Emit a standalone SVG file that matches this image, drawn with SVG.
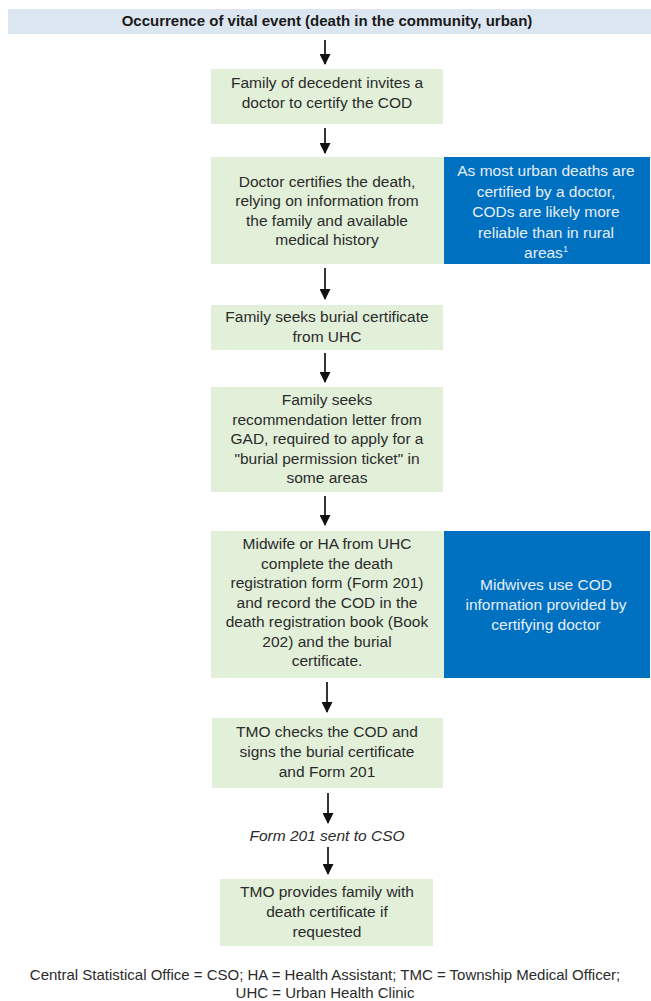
<svg xmlns="http://www.w3.org/2000/svg" width="651" height="1001" viewBox="0 0 651 1001">
<defs>
<style>
.t{font-family:"Liberation Sans",Arial,sans-serif;font-size:15.5px;fill:#2b2b2b;text-anchor:middle}
.w{fill:#e6eef8}
.b{font-weight:bold;fill:#1a1a1a;font-size:15px}
.i{font-style:italic}
.f{font-size:15px}
.g{fill:#e2efd9}
.bl{fill:#0070c0}
.c{stroke:#111;stroke-width:1.7;fill:none}
</style>
<marker id="ah" markerWidth="11" markerHeight="11" refX="10" refY="5.5" orient="auto" markerUnits="userSpaceOnUse">
<path d="M0,0 L11,5.5 L0,11 z" fill="#111"/>
</marker>
</defs>
<rect width="651" height="1001" fill="#fff"/>
<g id="n0">
<rect x="8" y="9" width="643" height="25" fill="#dce6f1"/>
<text class="t b" x="327" y="26">Occurrence of vital event (death in the community, urban)</text>
</g>
<g id="n1">
<rect class="g" x="211" y="69" width="232" height="55"/>
<text class="t" x="327" y="88">Family of decedent invites a</text>
<text class="t" x="327" y="108">doctor to certify the COD</text>
</g>
<g id="n2">
<rect class="g" x="211" y="157" width="233" height="107"/>
<text class="t" x="327" y="186.5">Doctor certifies the death,</text>
<text class="t" x="327" y="206">relying on information from</text>
<text class="t" x="327" y="225.5">the family and available</text>
<text class="t" x="327" y="245">medical history</text>
</g>
<g id="n2b">
<rect class="bl" x="444" y="157" width="206" height="107"/>
<text class="t w" x="546" y="176">As most urban deaths are</text>
<text class="t w" x="546" y="196.5">certified by a doctor,</text>
<text class="t w" x="546" y="217">CODs are likely more</text>
<text class="t w" x="546" y="237.5">reliable than in rural</text>
<text class="t w" x="546" y="258">areas<tspan font-size="9" dy="-6">1</tspan></text>
</g>
<g id="n3">
<rect class="g" x="211" y="305" width="232" height="45"/>
<text class="t" x="327" y="322">Family seeks burial certificate</text>
<text class="t" x="327" y="342">from UHC</text>
</g>
<g id="n4">
<rect class="g" x="211" y="387" width="232" height="105"/>
<text class="t" x="327" y="405">Family seeks</text>
<text class="t" x="327" y="424.5">recommendation letter from</text>
<text class="t" x="327" y="444">GAD, required to apply for a</text>
<text class="t" x="327" y="463.5">"burial permission ticket" in</text>
<text class="t" x="327" y="483">some areas</text>
</g>
<g id="n5">
<rect class="g" x="211" y="531" width="233" height="147"/>
<text class="t" x="327" y="549">Midwife or HA from UHC</text>
<text class="t" x="327" y="568.5">complete the death</text>
<text class="t" x="327" y="588">registration form (Form 201)</text>
<text class="t" x="327" y="607.5">and record the COD in the</text>
<text class="t" x="327" y="627">death registration book (Book</text>
<text class="t" x="327" y="646.5">202) and the burial</text>
<text class="t" x="327" y="666">certificate.</text>
</g>
<g id="n5b">
<rect class="bl" x="444" y="531" width="206" height="147"/>
<text class="t w" x="546" y="590">Midwives use COD</text>
<text class="t w" x="546" y="610">information provided by</text>
<text class="t w" x="546" y="630">certifying doctor</text>
</g>
<g id="n6">
<rect class="g" x="212" y="718" width="231" height="70"/>
<text class="t" x="327" y="737">TMO checks the COD and</text>
<text class="t" x="327" y="757">signs the burial certificate</text>
<text class="t" x="327" y="777">and Form 201</text>
</g>
<g id="n7">
<text class="t i" x="327" y="841">Form 201 sent to CSO</text>
</g>
<g id="n8">
<rect class="g" x="220" y="879" width="213" height="67"/>
<text class="t" x="327" y="897">TMO provides family with</text>
<text class="t" x="327" y="917">death certificate if</text>
<text class="t" x="327" y="937">requested</text>
</g>
<g id="legend">
<text class="t f" x="325" y="980">Central Statistical Office = CSO; HA = Health Assistant; TMC = Township Medical Officer;</text>
<text class="t f" x="325" y="998">UHC = Urban Health Clinic</text>
</g>
<g id="connectors">
<line class="c" x1="325" y1="40" x2="325" y2="64" marker-end="url(#ah)"/>
<line class="c" x1="325" y1="128" x2="325" y2="153" marker-end="url(#ah)"/>
<line class="c" x1="325" y1="268" x2="325" y2="299" marker-end="url(#ah)"/>
<line class="c" x1="325" y1="353" x2="325" y2="382" marker-end="url(#ah)"/>
<line class="c" x1="325" y1="496" x2="325" y2="525" marker-end="url(#ah)"/>
<line class="c" x1="327" y1="682" x2="327" y2="712" marker-end="url(#ah)"/>
<line class="c" x1="328" y1="793" x2="328" y2="823" marker-end="url(#ah)"/>
<line class="c" x1="328" y1="847" x2="328" y2="874" marker-end="url(#ah)"/>
</g>
</svg>
